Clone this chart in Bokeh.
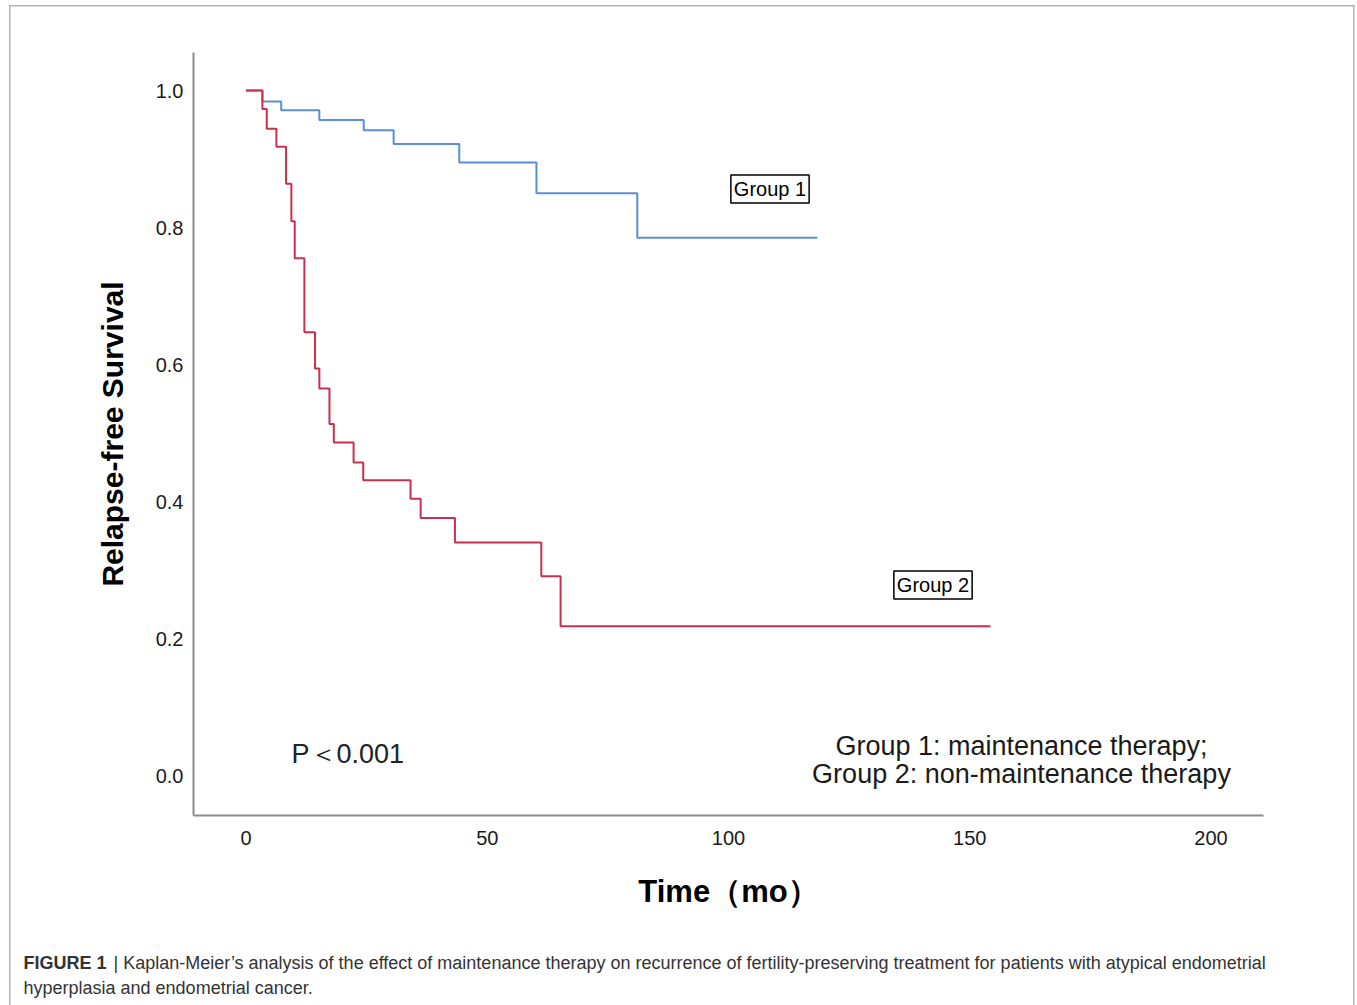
from bokeh.plotting import figure
from bokeh.layouts import column, row
from bokeh.models import Label, FixedTicker, Range1d, CustomJSTickFormatter
from bokeh.embed import file_html
from bokeh.resources import INLINE

# ---- data ----
g1_time = [0, 3.4, 7.3, 15.2, 24.4, 30.6, 44.2, 60.2, 81.1]
g1_surv = [1.0, 0.984, 0.971, 0.957, 0.942, 0.922, 0.895, 0.850, 0.785]
g1_end = 118.4

g2_time = [0, 3.4, 4.3, 6.3, 8.3, 9.4, 10.1, 12.1, 14.3, 15.2, 17.3, 18.2,
           22.3, 24.3, 34.1, 36.2, 43.3, 61.2, 65.2]
g2_surv = [1.0, 0.973, 0.944, 0.918, 0.864, 0.809, 0.755, 0.647, 0.594, 0.565,
           0.513, 0.486, 0.457, 0.431, 0.404, 0.376, 0.340, 0.291, 0.218]
g2_end = 154.3

x_ticks = [0, 50, 100, 150, 200]
y_ticks = [0.0, 0.2, 0.4, 0.6, 0.8, 1.0]

caption_bold = "FIGURE 1"
caption_line1 = ("| Kaplan-Meier’s analysis of the effect of maintenance therapy on "
                 "recurrence of fertility-preserving treatment for patients with atypical endometrial")
caption_line2 = "hyperplasia and endometrial cancer."

# ---- layout constants ----
W, H = 1357, 1005
PH = 930                          # height of the chart part
FL, FR, FT, FB = 193, 1263, 52, 815
X0PX, XS = 245.5, 4.825          # pixel of t=0, px per month
Y0PX, YS = 775.0, 685.0          # pixel of S=0, px per unit
x_start, x_end = (FL - X0PX) / XS, (FR - X0PX) / XS
y_start, y_end = (Y0PX - FB) / YS, (Y0PX - FT) / YS
BORDER = "#b4b4b4"


def tx(px):
    return (px - X0PX) / XS


def ty(py):
    return (Y0PX - py) / YS


grad = "linear-gradient({c},{c})".format(c=BORDER)
frame_css = {"background": (f"{grad} 9px 5px / 1.5px 100% no-repeat, "
                            f"{grad} 9px 5px / 1346px 1.5px no-repeat, "
                            f"{grad} 1353px 5px / 1.5px 100% no-repeat, white")}
side_css = {"background": (f"{grad} 9px 0px / 1.5px 100% no-repeat, "
                           f"{grad} 1353px 0px / 1.5px 100% no-repeat, white")}

p = figure(width=W, height=PH, output_backend="svg", toolbar_location=None,
           x_range=Range1d(x_start, x_end), y_range=Range1d(y_start, y_end),
           min_border_left=FL, min_border_right=W - FR,
           min_border_top=FT, min_border_bottom=PH - FB, styles=frame_css)
p.outline_line_color = None
p.xgrid.visible = False
p.ygrid.visible = False
p.background_fill_color = "white"
p.border_fill_alpha = 0

for ax in (p.xaxis[0], p.yaxis[0]):
    ax.axis_line_color = "#8c8c8c"
    ax.axis_line_width = 2
    ax.major_tick_line_color = None
    ax.minor_tick_line_color = None
    ax.major_tick_in = 0
    ax.major_tick_out = 0
    ax.minor_tick_in = 0
    ax.minor_tick_out = 0
    ax.major_label_text_font = "Liberation Sans"
    ax.major_label_text_font_size = "20px"
    ax.major_label_text_color = "#1a1a1a"
    ax.axis_label_text_font = "Liberation Sans"
    ax.axis_label_text_font_style = "bold"
    ax.axis_label_text_color = "#000000"

p.xaxis[0].ticker = FixedTicker(ticks=x_ticks)
p.yaxis[0].ticker = FixedTicker(ticks=y_ticks)
p.yaxis[0].formatter = CustomJSTickFormatter(code="return tick.toFixed(1)")
p.xaxis[0].major_label_standoff = 15
p.yaxis[0].major_label_standoff = 10
p.xaxis[0].axis_label = "Time（mo）"
p.yaxis[0].axis_label = "Relapse-free Survival"
p.xaxis[0].axis_label_text_font_size = "31px"
p.yaxis[0].axis_label_text_font_size = "30px"
p.xaxis[0].axis_label_standoff = 26
p.yaxis[0].axis_label_standoff = 24

# survival curves
p.step(g1_time + [g1_end], g1_surv + [g1_surv[-1]], mode="after",
       line_color="#5b8ed4", line_width=2)
p.step(g2_time + [g2_end], g2_surv + [g2_surv[-1]], mode="after",
       line_color="#c8304f", line_width=2)

# group labels
for txt, cx, cy in (("Group 1", 769.5, 188.4), ("Group 2", 932.5, 584.5)):
    p.add_layout(Label(x=tx(cx), y=ty(cy), text=txt, text_align="center",
                       text_baseline="middle", text_font="Liberation Sans",
                       text_font_size="20px", text_color="#000000",
                       border_line_color="#000000", border_line_width=1.5,
                       background_fill_color="white", padding=3))

p.add_layout(Label(x=tx(291), y=ty(753), text="P＜0.001", text_align="left",
                   text_baseline="middle", text_font="Liberation Sans",
                   text_font_size="27px", text_color="#222222"))
p.add_layout(Label(x=tx(1021), y=ty(745), text="Group 1: maintenance therapy;",
                   text_align="center", text_baseline="middle",
                   text_font="Liberation Sans", text_font_size="27px",
                   text_color="#1a1a1a"))
p.add_layout(Label(x=tx(1021), y=ty(773), text="Group 2: non-maintenance therapy",
                   text_align="center", text_baseline="middle",
                   text_font="Liberation Sans", text_font_size="27px",
                   text_color="#1a1a1a"))

# ---- caption strip (pixel-like coordinates, y downwards) ----
CH = H - PH
c = figure(width=W, height=CH, output_backend="svg", toolbar_location=None,
           x_range=Range1d(0, W), y_range=Range1d(CH, 0),
           x_axis_location=None, y_axis_location=None,
           min_border_left=0, min_border_right=0, min_border_top=0, min_border_bottom=0,
           styles=side_css)
c.outline_line_color = None
c.xgrid.visible = False
c.ygrid.visible = False
c.background_fill_alpha = 0
c.border_fill_alpha = 0
cap_kw = dict(text_align="left", text_baseline="middle", text_font="Liberation Sans",
              text_font_size="18px", text_color="#333333")
c.add_layout(Label(x=23, y=962 - PH, text=caption_bold, text_font_style="bold", **cap_kw))
c.add_layout(Label(x=113, y=962 - PH, text=caption_line1, **cap_kw))
c.add_layout(Label(x=23, y=987 - PH, text=caption_line2, **cap_kw))

layout = column(p, row(c, spacing=0), spacing=0)
open("out.html", "w").write(file_html(layout, INLINE))
